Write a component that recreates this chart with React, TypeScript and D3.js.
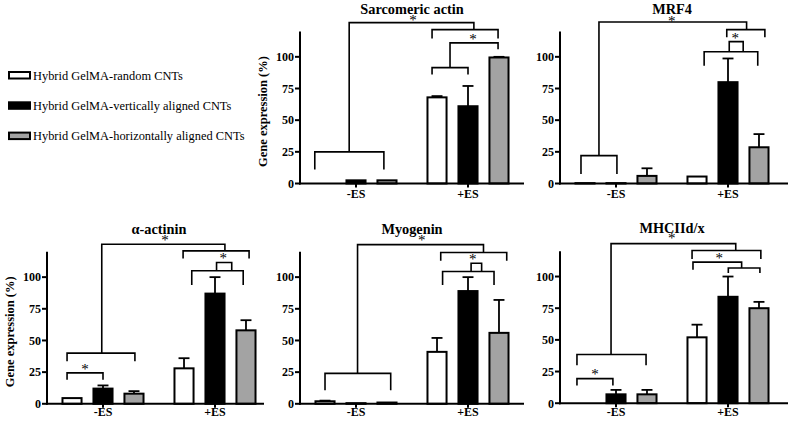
import React from 'react';
import * as d3 from 'd3';

// ---------- data ----------
const groups = ['-ES', '+ES'];
const seriesNames = [
  'Hybrid GelMA-random CNTs',
  'Hybrid GelMA-vertically aligned CNTs',
  'Hybrid GelMA-horizontally aligned CNTs',
];
const seriesFill = ['#ffffff', '#000000', '#a3a3a3'];
const yTicks = [0, 25, 50, 75, 100];

const titles = ['Sarcomeric actin', 'MRF4', 'α-actinin', 'Myogenin', 'MHCIId/x'];

// mean[group][series]
const sarcomericMean = [[0, 2.5, 2.5], [68, 61, 99.5]];
const sarcomericSd = [[0, 0, 0], [1, 16, 0.5]];
const mrf4Mean = [[0.3, 0.3, 6], [5.5, 80, 28.6]];
const mrf4Sd = [[0, 0, 6], [0, 18.7, 10.4]];
const actininMean = [[4.5, 12, 8], [28, 87, 58]];
const actininSd = [[0, 2.5, 2], [8, 13, 8]];
const myogeninMean = [[2, 0.5, 1], [41, 89, 56]];
const myogeninSd = [[0.5, 0, 0], [11, 11, 26]];
const mhcMean = [[0, 7, 7], [52, 84, 75]];
const mhcSd = [[0, 3.5, 3.5], [10, 16, 5]];

// significance brackets: polylines of [group, bar offset, value]
type P = [number, number, number];
const sarcomericBrackets: P[][] = [
  [[0, -0.33, 11], [0, -0.33, 25], [0, 1.9, 25], [0, 1.9, 11]],
  [[0, 0.78, 25], [0, 0.78, 127], [1, 1.19, 127], [1, 1.19, 121.5]],
  [[1, -0.16, 114.5], [1, -0.16, 121.5], [1, 1.97, 121.5], [1, 1.97, 114.5]],
  [[1, -0.16, 86], [1, -0.16, 91.5], [1, 1.0, 91.5], [1, 1.0, 86]],
  [[1, 0.42, 91.5], [1, 0.42, 111], [1, 1.97, 111], [1, 1.97, 106]],
];
const sarcomericStars: P[] = [[0, 2.84, 131], [1, 1.16, 116]];

const mrf4Brackets: P[][] = [
  [[0, -0.13, 7.5], [0, -0.13, 22], [0, 1.03, 22], [0, 1.03, 7.5]],
  [[0, 0.45, 22], [0, 0.45, 127.5], [1, 1.6, 127.5], [1, 1.6, 121.5]],
  [[1, 0.96, 115.5], [1, 0.96, 121.5], [1, 2.19, 121.5], [1, 2.19, 115.5]],
  [[1, 0.23, 93], [1, 0.23, 104], [1, 1.96, 104], [1, 1.96, 93]],
  [[1, 1.04, 104], [1, 1.04, 112], [1, 1.49, 112], [1, 1.49, 104]],
];
const mrf4Stars: P[] = [[0, 2.8, 130], [1, 1.23, 116.4]];

const actininBrackets: P[][] = [
  [[0, -0.16, 33.5], [0, -0.16, 40], [0, 2.03, 40], [0, 2.03, 33.5]],
  [[0, -0.16, 19], [0, -0.16, 24.4], [0, 1.0, 24.4], [0, 1.0, 19]],
  [[0, 0.96, 40], [0, 0.96, 126], [1, 1.32, 126], [1, 1.32, 120.7]],
  [[1, -0.03, 114.7], [1, -0.03, 120.7], [1, 2.1, 120.7], [1, 2.1, 114.7]],
  [[1, 0.25, 93.7], [1, 0.25, 105], [1, 1.91, 105], [1, 1.91, 93.7]],
  [[1, 1.05, 105], [1, 1.05, 111.6], [1, 1.54, 111.6], [1, 1.54, 105]],
];
const actininStars: P[] = [[0, 3.0, 131], [1, 1.27, 116.5], [0, 0.42, 29.4]];

const myogeninBrackets: P[][] = [
  [[0, 0, 10.7], [0, 0, 24], [0, 2.12, 24], [0, 2.12, 10.7]],
  [[0, 1.05, 24], [0, 1.05, 125.7], [1, 1.5, 125.7], [1, 1.5, 119.4]],
  [[1, 0.12, 113], [1, 0.12, 119.4], [1, 2.25, 119.4], [1, 2.25, 113]],
  [[1, 0.18, 93.8], [1, 0.18, 104.4], [1, 1.84, 104.4], [1, 1.84, 93.8]],
  [[1, 1.1, 104.4], [1, 1.1, 111], [1, 1.44, 111], [1, 1.44, 104.4]],
];
const myogeninStars: P[] = [[0, 3.12, 131], [1, 1.15, 115.7]];

const mhcBrackets: P[][] = [
  [[0, -0.26, 30], [0, -0.26, 38.5], [0, 1.97, 38.5], [0, 1.97, 30]],
  [[0, -0.26, 14], [0, -0.26, 19.4], [0, 0.9, 19.4], [0, 0.9, 14]],
  [[0, 0.84, 38.5], [0, 0.84, 126], [1, 1.25, 126], [1, 1.25, 120.6]],
  [[1, -0.16, 113.8], [1, -0.16, 120.6], [1, 2.06, 120.6], [1, 2.06, 113.8]],
  [[1, -0.13, 105.3], [1, -0.13, 111.4], [1, 1.44, 111.4], [1, 1.44, 106.7]],
  [[1, 1.01, 102.7], [1, 1.01, 106.7], [1, 2.03, 106.7], [1, 2.03, 102.7]],
];
const mhcStars: P[] = [[0, 2.8, 131.7], [1, 0.72, 116.4], [0, 0.32, 24.6]];

const panelMeans = [sarcomericMean, mrf4Mean, actininMean, myogeninMean, mhcMean];
const panelSds = [sarcomericSd, mrf4Sd, actininSd, myogeninSd, mhcSd];
const panelBrackets = [sarcomericBrackets, mrf4Brackets, actininBrackets, myogeninBrackets, mhcBrackets];
const panelStars = [sarcomericStars, mrf4Stars, actininStars, myogeninStars, mhcStars];

// ---------- layout ----------
const layout = [
  { x0: 300, y0: 183.5, axisLen: 224, yLabel: true, gl: 14.5 },
  { x0: 560, y0: 183.5, axisLen: 228, yLabel: false, gl: 14.5 },
  { x0: 47, y0: 403.8, axisLen: 217, yLabel: true, gl: 12 },
  { x0: 300, y0: 403.8, axisLen: 224, yLabel: false, gl: 12 },
  { x0: 560, y0: 403.2, axisLen: 228, yLabel: false, gl: 12.5 },
];

const FONT = '"Liberation Serif", "Times New Roman", serif';
const W = 790;
const H = 424;

function Panel({ idx }: { idx: number }) {
  const L = layout[idx];
  const mean = panelMeans[idx];
  const sd = panelSds[idx];
  const y = d3.scaleLinear().domain([0, 120]).range([L.y0, L.y0 - 152]);
  const xg = d3.scaleBand<string>().domain(groups).range([L.x0, L.x0 + 224]).paddingInner(0.17).paddingOuter(0.085);
  const xb = d3.scaleBand<string>().domain(['0', '1', '2']).range([0, xg.bandwidth()]).paddingInner(0.32).paddingOuter(0.16);
  const bx = (g: number, b: number) => (xg(groups[g]) as number) + (xb('0') as number) + xb.bandwidth() / 2 + b * xb.step();
  const line = d3.line<P>().x((p) => bx(p[0], p[1])).y((p) => y(p[2]));
  const bw = xb.bandwidth();
  const capW = bw * 0.52;
  return (
    <g>
      <text x={L.x0 + 112} y={L.y0 - 170} textAnchor="middle" fontFamily={FONT} fontWeight="bold" fontSize={14.3}>
        {titles[idx]}
      </text>
      {L.yLabel && (
        <text
          transform={`translate(${L.x0 - 33},${L.y0 - 72}) rotate(-90)`}
          textAnchor="middle"
          fontFamily={FONT}
          fontWeight="bold"
          fontSize={12.5}
        >
          Gene expression (%)
        </text>
      )}
      {/* bars */}
      {groups.map((g, gi) =>
        mean[gi].map((v, si) => {
          const cx = bx(gi, si);
          const top = y(v);
          const errTop = y(v + sd[gi][si]);
          return (
            <g key={`${gi}-${si}`}>
              {sd[gi][si] > 0 && (
                <g stroke="#000" strokeWidth={1.8}>
                  <line x1={cx} x2={cx} y1={top} y2={errTop} />
                  <line x1={cx - capW / 2} x2={cx + capW / 2} y1={errTop} y2={errTop} />
                </g>
              )}
              {v > 0 && (
                <rect
                  x={cx - bw / 2 + 1}
                  y={top}
                  width={bw - 2}
                  height={Math.max(0, L.y0 - top)}
                  fill={seriesFill[si]}
                  stroke="#000"
                  strokeWidth={2}
                />
              )}
            </g>
          );
        })
      )}
      {/* axes */}
      <g stroke="#000" strokeWidth={2} fill="none">
        <line x1={L.x0} x2={L.x0} y1={y(120)} y2={L.y0 + 1} />
        <line x1={L.x0 - 1} x2={L.x0 + L.axisLen} y1={L.y0} y2={L.y0} />
        {yTicks.map((t) => (
          <line key={t} x1={L.x0 - 5} x2={L.x0} y1={y(t)} y2={y(t)} />
        ))}
        {groups.map((g, gi) => (
          <line key={g} x1={bx(gi, 1)} x2={bx(gi, 1)} y1={L.y0} y2={L.y0 + 4} />
        ))}
      </g>
      {yTicks.map((t) => (
        <text key={t} x={L.x0 - 6} y={y(t)} dy="0.36em" textAnchor="end" fontFamily={FONT} fontWeight="bold" fontSize={12}>
          {t}
        </text>
      ))}
      {groups.map((g, gi) => (
        <text key={g} x={bx(gi, 1)} y={L.y0 + L.gl} textAnchor="middle" fontFamily={FONT} fontWeight="bold" fontSize={12}>
          {g}
        </text>
      ))}
      {/* significance */}
      <g stroke="#000" strokeWidth={1.6} fill="none">
        {panelBrackets[idx].map((pts, i) => (
          <path key={i} d={line(pts) as string} />
        ))}
      </g>
      {panelStars[idx].map((s, i) => (
        <text key={i} x={bx(s[0], s[1])} y={y(s[2]) + 7} textAnchor="middle" fontFamily={FONT} fontSize={15}>
          *
        </text>
      ))}
    </g>
  );
}

function Legend() {
  return (
    <g>
      {seriesNames.map((n, i) => (
        <g key={n}>
          <rect x={9} y={72 + i * 30.3} width={21} height={6.5} fill={seriesFill[i]} stroke="#000" strokeWidth={2} />
          <text x={33} y={79.5 + i * 30.3} fontFamily={FONT} fontSize={12.4}>
            {n}
          </text>
        </g>
      ))}
    </g>
  );
}

export default function App() {
  return (
    <svg width={W} height={H} style={{ position: 'absolute', left: 0, top: 0, background: '#fff' }}>
      <rect width={W} height={H} fill="#fff" />
      <Legend />
      {layout.map((_, i) => (
        <Panel key={i} idx={i} />
      ))}
    </svg>
  );
}
